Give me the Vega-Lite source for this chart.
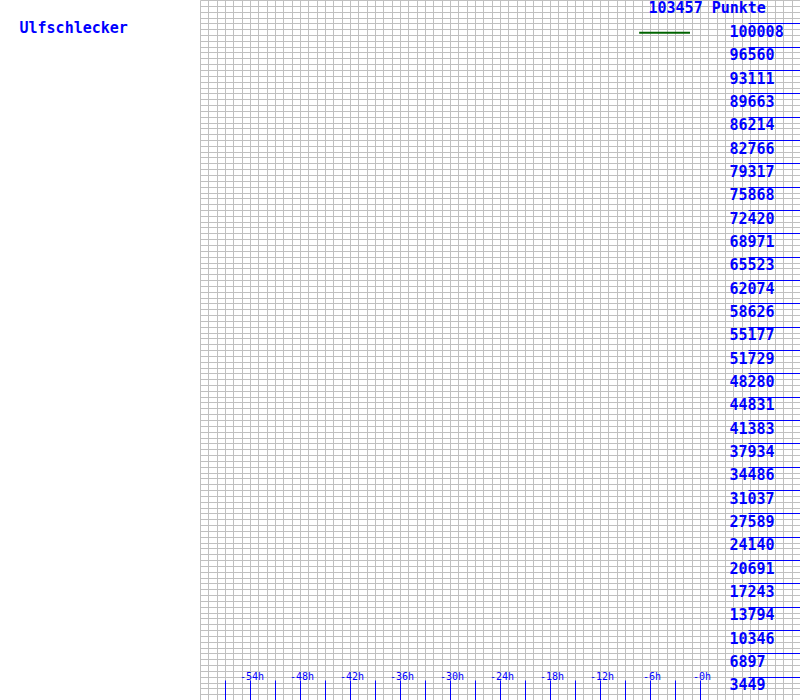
{
  "$schema": "https://vega.github.io/schema/vega-lite/v6.json",
  "width": 600,
  "height": 700,
  "autosize": "none",
  "padding": {"left": 200, "top": 0, "right": 0, "bottom": 0},
  "background": "white",
  "config": {"view": {"stroke": null}},
  "data": {"values": [
    {"hour": -7.3, "punkte": 98600},
    {"hour": -1.2, "punkte": 98600}
  ]},
  "layer": [
    {
      "mark": {"type": "point", "opacity": 0, "clip": true},
      "encoding": {
        "x": {"field": "hour", "type": "quantitative",
          "scale": {"domain": [-60, 12], "nice": false, "zero": false},
          "axis": {"grid": true, "gridColor": "#c0c0c0", "gridOpacity": 1, "gridWidth": 1, "tickCount": 72,
            "labels": false, "ticks": false, "domain": false, "title": null, "orient": "top", "zindex": 0}},
        "y": {"field": "punkte", "type": "quantitative",
          "scale": {"domain": [0, 120], "nice": false, "zero": false},
          "axis": {"grid": true, "gridColor": "#c0c0c0", "gridOpacity": 1, "gridWidth": 1, "tickCount": 120,
            "labels": false, "ticks": false, "domain": false, "title": null, "orient": "left", "zindex": 0}}
      }
    },
    {
      "mark": {"type": "line", "color": "#006400", "strokeWidth": 2, "strokeCap": "butt"},
      "encoding": {
        "x": {"field": "hour", "type": "quantitative",
          "scale": {"domain": [-60, 12], "nice": false, "zero": false},
          "axis": {
            "orient": "bottom", "offset": -20, "grid": false, "domain": false, "zindex": 2,
            "values": [-57, -54, -51, -48, -45, -42, -39, -36, -33, -30, -27, -24, -21, -18, -15, -12, -9, -6, -3, 0],
            "tickSize": 20, "tickColor": "#0000ff", "tickOpacity": 1, "tickWidth": 1,
            "labelExpr": "datum.value % 6 === 0 ? '-' + abs(datum.value) + 'h' : ''",
            "labelFont": "DejaVu Sans Mono", "labelFontSize": 10, "labelColor": "#0000ff",
            "labelBaseline": "middle", "labelAlign": "center", "labelPadding": -23.5, "labelOffset": 1.5,
            "labelOverlap": false, "labelFlush": false,
            "title": "Ulfschlecker", "titleX": -181, "titleY": -653, "titleAlign": "left", "titleBaseline": "middle",
            "titleAngle": 0, "titleFont": "DejaVu Sans Mono", "titleFontSize": 15, "titleFontWeight": "bold", "titleColor": "#0000ff"
          }},
        "y": {"field": "punkte", "type": "quantitative",
          "scale": {"domain": [0, 103457], "nice": false, "zero": false},
          "axis": {
            "orient": "right", "offset": -52, "grid": false, "domain": false, "zindex": 2,
            "values": [3448.567, 6897.133, 10345.7, 13794.267, 17242.833, 20691.4, 24139.967, 27588.533, 31037.1, 34485.667, 37934.233, 41382.8, 44831.367, 48279.933, 51728.5, 55177.067, 58625.633, 62074.2, 65522.767, 68971.333, 72419.9, 75868.467, 79317.033, 82765.6, 86214.167, 89662.733, 93111.3, 96559.867, 100008.433],
            "format": ".0f",
            "tickSize": 52, "tickColor": "#0000ff", "tickOpacity": 1, "tickWidth": 1,
            "labelFont": "DejaVu Sans Mono", "labelFontSize": 15, "labelFontWeight": "bold", "labelColor": "#0000ff",
            "labelAlign": "left", "labelBaseline": "middle", "labelPadding": -71, "labelOffset": 8,
            "labelOverlap": false, "labelFlush": false,
            "title": "103457 Punkte", "titleX": -100, "titleY": 7, "titleAlign": "left", "titleBaseline": "middle",
            "titleAngle": 0, "titleFont": "DejaVu Sans Mono", "titleFontSize": 15, "titleFontWeight": "bold", "titleColor": "#0000ff"
          }}
      }
    }
  ],
  "resolve": {"scale": {"x": "independent", "y": "independent"}, "axis": {"x": "independent", "y": "independent"}}
}
